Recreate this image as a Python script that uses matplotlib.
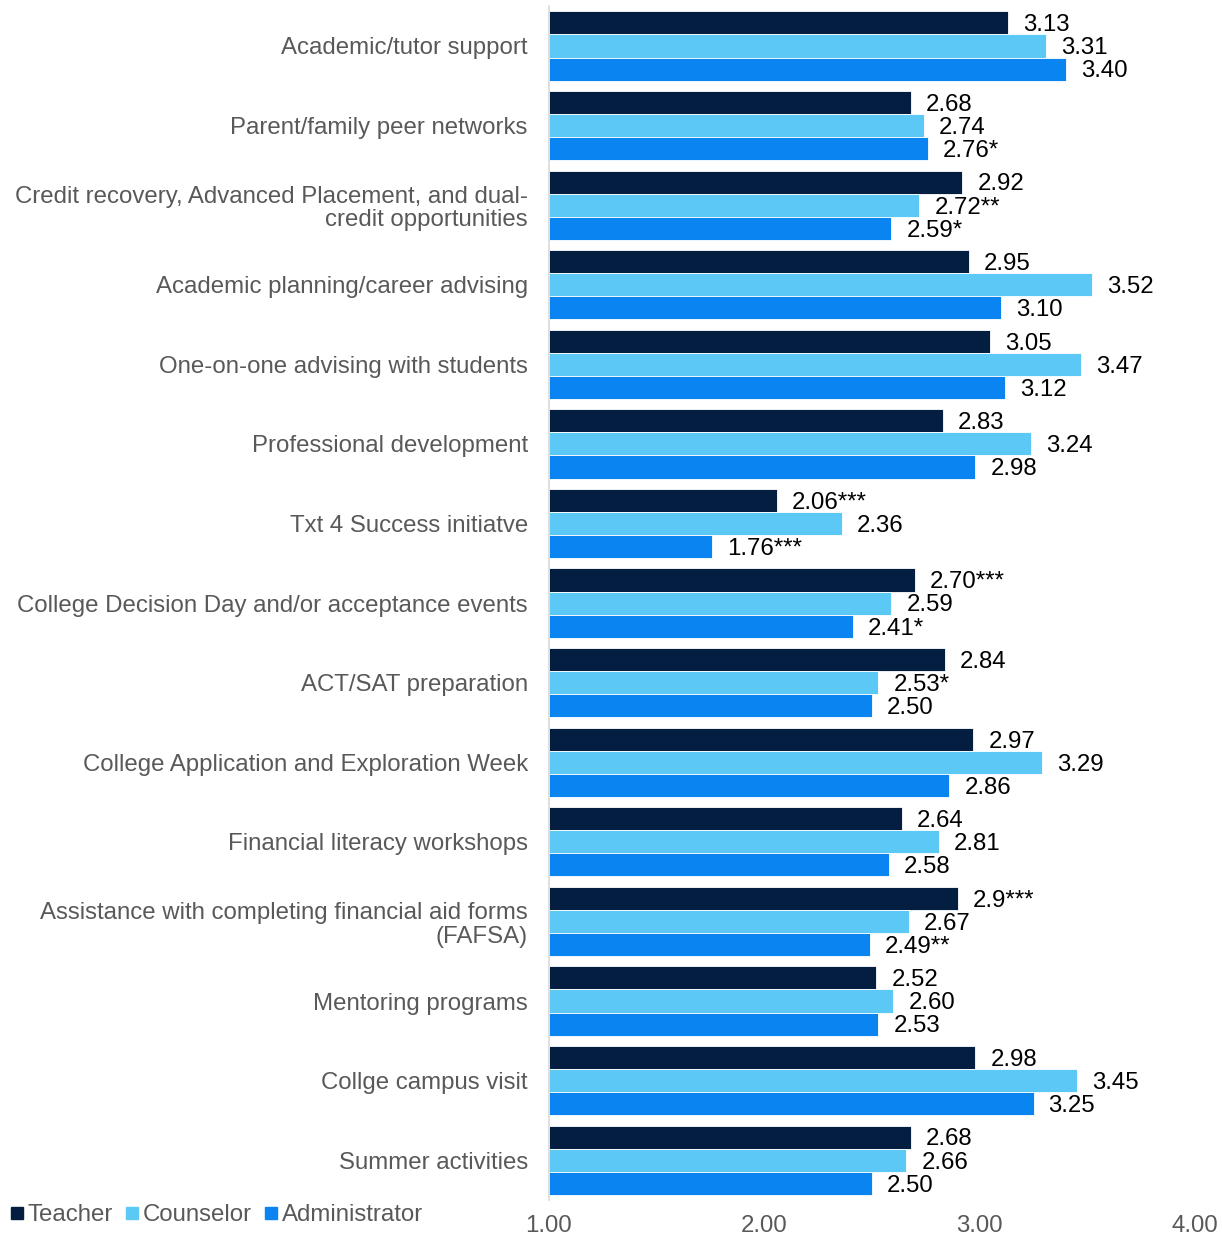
import matplotlib.pyplot as plt
from matplotlib.lines import Line2D
import numpy as np

categories = [
    "Academic/tutor support",
    "Parent/family peer networks",
    "Credit recovery, Advanced Placement, and dual-\ncredit opportunities",
    "Academic planning/career advising",
    "One-on-one advising with students",
    "Professional development",
    "Txt 4 Success initiatve",
    "College Decision Day and/or acceptance events",
    "ACT/SAT preparation",
    "College Application and Exploration Week",
    "Financial literacy workshops",
    "Assistance with completing financial aid forms\n(FAFSA)",
    "Mentoring programs",
    "Collge campus visit",
    "Summer activities",
]
teacher = [3.13, 2.68, 2.92, 2.95, 3.05, 2.83, 2.06, 2.70, 2.84, 2.97, 2.64, 2.90, 2.52, 2.98, 2.68]
counselor = [3.31, 2.74, 2.72, 3.52, 3.47, 3.24, 2.36, 2.59, 2.53, 3.29, 2.81, 2.67, 2.60, 3.45, 2.66]
administrator = [3.40, 2.76, 2.59, 3.10, 3.12, 2.98, 1.76, 2.41, 2.50, 2.86, 2.58, 2.49, 2.53, 3.25, 2.50]
teacher_lbl = ["3.13", "2.68", "2.92", "2.95", "3.05", "2.83", "2.06***", "2.70***", "2.84",
               "2.97", "2.64", "2.9***", "2.52", "2.98", "2.68"]
counselor_lbl = ["3.31", "2.74", "2.72**", "3.52", "3.47", "3.24", "2.36", "2.59", "2.53*",
                 "3.29", "2.81", "2.67", "2.60", "3.45", "2.66"]
admin_lbl = ["3.40", "2.76*", "2.59*", "3.10", "3.12", "2.98", "1.76***", "2.41*", "2.50",
             "2.86", "2.58", "2.49**", "2.53", "3.25", "2.50"]
series = ["Teacher", "Counselor", "Administrator"]
colors = ["#041E42", "#5BC8F5", "#0A84F0"]

plt.rcParams['font.family'] = ['Liberation Sans', 'DejaVu Sans']

fig = plt.figure(figsize=(12.22, 12.39), dpi=100)
ax = fig.add_axes([0.449, 0.0315, 0.529, 0.9635])

y = np.arange(len(categories))
h = 0.29
data = [teacher, counselor, administrator]
labels = [teacher_lbl, counselor_lbl, admin_lbl]
for i, (vals, lbls, col) in enumerate(zip(data, labels, colors)):
    pos = y + (i - 1) * h
    widths = [v - 1 for v in vals]
    ax.barh(pos, widths, height=h, left=1, color=col, edgecolor="white", linewidth=0.6)
    for p, v, t in zip(pos, vals, lbls):
        ax.text(v + 0.07, p + 0.03, t, va="center", ha="left", fontsize=17.3, color="black")

ax.set_ylim(len(categories) - 0.5, -0.5)
ax.set_xlim(1, 4)
ax.set_xticks([1, 2, 3, 4])
ax.set_xticklabels(["1.00", "2.00", "3.00", "4.00"])
ax.set_yticks(y)
ax.set_yticklabels(categories, linespacing=1.1)
ax.tick_params(axis="y", length=0, pad=15, labelsize=17.3, labelcolor="#595959")
ax.tick_params(axis="x", length=0, pad=11, labelsize=17.3, labelcolor="#595959")
for s in ["top", "right", "bottom"]:
    ax.spines[s].set_visible(False)
ax.spines["left"].set_color("#D9D9D9")
ax.spines["left"].set_linewidth(1.2)
for t in ax.get_yticklabels():
    t.set_multialignment("right")

handles = [Line2D([0], [0], marker="s", color="w", markerfacecolor=c, markeredgecolor=c,
                  markersize=9, linestyle="None") for c in colors]
fig.legend(handles, series, loc="center left", bbox_to_anchor=(-0.006, 0.019), ncol=3,
           frameon=False, fontsize=17.3, handlelength=0.6, handletextpad=0.15,
           columnspacing=0.5, labelcolor="#595959", borderpad=0.2)

fig.savefig("out.png", dpi=100)
